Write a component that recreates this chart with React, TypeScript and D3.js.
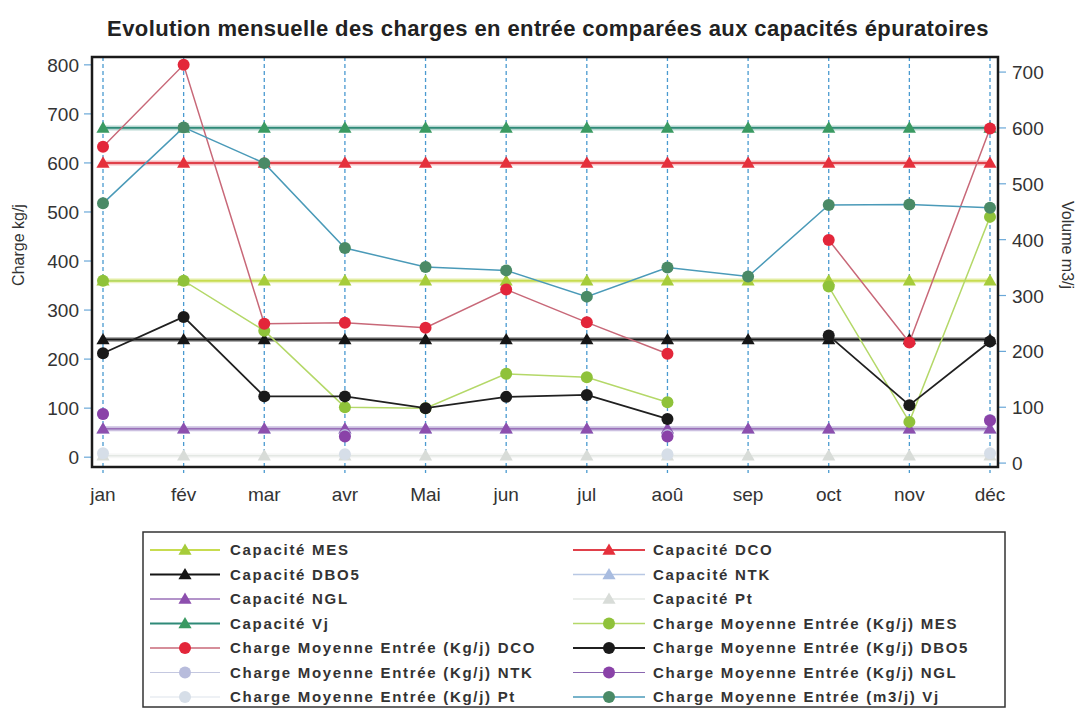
import React, { useEffect, useRef } from "react";
import * as d3 from "d3";

// months on the x axis
const months = ["jan", "fév", "mar", "avr", "Mai", "jun", "jul", "aoû", "sep", "oct", "nov", "déc"];
const leftTicks = [0, 100, 200, 300, 400, 500, 600, 700, 800];
const rightTicks = [0, 100, 200, 300, 400, 500, 600, 700];

// capacities (kg/j, Vj in m3/j)
const capMES = [360, 360, 360, 360, 360, 360, 360, 360, 360, 360, 360, 360];
const capDCO = [600, 600, 600, 600, 600, 600, 600, 600, 600, 600, 600, 600];
const capDBO5 = [240, 240, 240, 240, 240, 240, 240, 240, 240, 240, 240, 240];
const capNTK = [58, 58, 58, 58, 58, 58, 58, 58, 58, 58, 58, 58];
const capNGL = [58, 58, 58, 58, 58, 58, 58, 58, 58, 58, 58, 58];
const capPt = [3, 3, 3, 3, 3, 3, 3, 3, 3, 3, 3, 3];
const capVj = [600, 600, 600, 600, 600, 600, 600, 600, 600, 600, 600, 600];

// average incoming loads
const chMES = [360, 360, 258, 102, 100, 170, 163, 112, null, 348, 72, 490];
const chDCO = [633, 800, 272, 274, 264, 342, 275, 211, null, 443, 234, 670];
const chDBO5 = [212, 286, 124, 124, 100, 123, 127, 78, null, 248, 106, 236];
const chNTK = [88, null, null, 45, null, null, null, 45, null, null, null, 76];
const chNGL = [88, null, null, 42, null, null, null, 42, null, null, null, 75];
const chPt = [8, null, null, 6, null, null, null, 6, null, null, null, 8];
const chVj = [465, 601, 537, 385, 351, 345, 298, 350, 334, 462, 463, 457];

type Serie = {
  label: string;
  values: (number | null)[];
  axis: "L" | "R";
  shape: "tri" | "dot";
  line: string;
  marker: string;
  width: number;
};

const series: Serie[] = [
  { label: "Capacité MES", values: capMES, axis: "L", shape: "tri", line: "#c8dc50", marker: "#a6cc3a", width: 2 },
  { label: "Capacité DCO", values: capDCO, axis: "L", shape: "tri", line: "#e0404a", marker: "#e5303c", width: 2 },
  { label: "Capacité DBO5", values: capDBO5, axis: "L", shape: "tri", line: "#151515", marker: "#151515", width: 2 },
  { label: "Capacité NTK", values: capNTK, axis: "L", shape: "tri", line: "#b8c8e4", marker: "#a8bce0", width: 1.5 },
  { label: "Capacité NGL", values: capNGL, axis: "L", shape: "tri", line: "#9a70b8", marker: "#8d4fae", width: 1.5 },
  { label: "Capacité Pt", values: capPt, axis: "L", shape: "tri", line: "#e4e8e4", marker: "#d8dcd8", width: 1.5 },
  { label: "Capacité Vj", values: capVj, axis: "R", shape: "tri", line: "#2f8a78", marker: "#3a9a62", width: 1.8 },
  { label: "Charge Moyenne Entrée (Kg/j) MES", values: chMES, axis: "L", shape: "dot", line: "#b4d868", marker: "#8fc23a", width: 1.5 },
  { label: "Charge Moyenne Entrée (Kg/j) DCO", values: chDCO, axis: "L", shape: "dot", line: "#c86878", marker: "#e3263a", width: 1.5 },
  { label: "Charge Moyenne Entrée (Kg/j) DBO5", values: chDBO5, axis: "L", shape: "dot", line: "#202020", marker: "#1a1a1a", width: 1.8 },
  { label: "Charge Moyenne Entrée (Kg/j) NTK", values: chNTK, axis: "L", shape: "dot", line: "#c4c8e0", marker: "#b8bcdc", width: 1.2 },
  { label: "Charge Moyenne Entrée (Kg/j) NGL", values: chNGL, axis: "L", shape: "dot", line: "#8a66b0", marker: "#8a42a8", width: 1.2 },
  { label: "Charge Moyenne Entrée (Kg/j) Pt", values: chPt, axis: "L", shape: "dot", line: "#dde4ec", marker: "#d6dee8", width: 1.2 },
  { label: "Charge Moyenne Entrée (m3/j) Vj", values: chVj, axis: "R", shape: "dot", line: "#4a9ab8", marker: "#4a8a66", width: 1.5 },
];

// legend order: two columns as in the original
const legendLeft = ["Capacité MES", "Capacité DBO5", "Capacité NGL", "Capacité Vj",
  "Charge Moyenne Entrée (Kg/j) DCO", "Charge Moyenne Entrée (Kg/j) NTK", "Charge Moyenne Entrée (Kg/j) Pt"];
const legendRight = ["Capacité DCO", "Capacité NTK", "Capacité Pt", "Charge Moyenne Entrée (Kg/j) MES",
  "Charge Moyenne Entrée (Kg/j) DBO5", "Charge Moyenne Entrée (Kg/j) NGL", "Charge Moyenne Entrée (m3/j) Vj"];

const W = 1083, H = 711;
const plot = { left: 92, right: 998, top: 57, bottom: 467 };

const drawMarker = (g: any, s: Serie, x: number, y: number) => {
  if (s.shape === "tri") {
    g.append("path")
      .attr("d", d3.symbol(d3.symbolTriangle, 75)())
      .attr("transform", `translate(${x},${y + 1})`)
      .attr("fill", s.marker);
  } else {
    g.append("circle").attr("cx", x).attr("cy", y).attr("r", 6).attr("fill", s.marker);
  }
};

const drawChart = (container: SVGSVGElement | null) => {
  if (!container) return;
  const svg = d3.select(container);
  svg.selectAll("*").remove();

  const font = "'Liberation Sans', Arial, sans-serif";
  const x = d3.scalePoint<string>().domain(months).range([103, 990]);
  const yL = d3.scaleLinear().domain([-20, 816]).range([plot.bottom, plot.top]);
  const yR = d3.scaleLinear().domain([-7, 727]).range([plot.bottom, plot.top]);

  svg.append("rect").attr("width", W).attr("height", H).attr("fill", "#fff");

  // title
  svg.append("text")
    .attr("x", 548).attr("y", 36)
    .attr("text-anchor", "middle")
    .attr("font-family", font).attr("font-weight", "bold").attr("font-size", 22)
    .attr("letter-spacing", 0.4)
    .attr("fill", "#222")
    .text("Evolution mensuelle des charges en entrée comparées aux capacités épuratoires");

  // vertical dashed grid
  svg.append("g").selectAll("line").data(months).join("line")
    .attr("x1", d => x(d)!).attr("x2", d => x(d)!)
    .attr("y1", plot.top).attr("y2", plot.bottom + 6)
    .attr("stroke", "#4a9ad0").attr("stroke-width", 1.3).attr("stroke-dasharray", "4,3");

  // left axis
  const gl = svg.append("g");
  gl.selectAll("line").data(leftTicks).join("line")
    .attr("x1", plot.left - 8).attr("x2", plot.left)
    .attr("y1", d => yL(d)).attr("y2", d => yL(d))
    .attr("stroke", "#6aa8d8").attr("stroke-width", 1.2);
  gl.selectAll("text").data(leftTicks).join("text")
    .attr("x", 79).attr("y", d => yL(d) + 7)
    .attr("text-anchor", "end")
    .attr("font-family", font).attr("font-size", 19).attr("fill", "#333")
    .text(d => d);

  // right axis
  const gr = svg.append("g");
  gr.selectAll("line").data(rightTicks).join("line")
    .attr("x1", plot.right).attr("x2", plot.right + 8)
    .attr("y1", d => yR(d)).attr("y2", d => yR(d))
    .attr("stroke", "#6aa8d8").attr("stroke-width", 1.2);
  gr.selectAll("text").data(rightTicks).join("text")
    .attr("x", 1012).attr("y", d => yR(d) + 7)
    .attr("font-family", font).attr("font-size", 19).attr("fill", "#333")
    .text(d => d);

  // month labels
  svg.append("g").selectAll("text").data(months).join("text")
    .attr("x", d => x(d)!).attr("y", 501)
    .attr("text-anchor", "middle")
    .attr("font-family", font).attr("font-size", 19).attr("fill", "#333")
    .text(d => d);

  // axis titles
  svg.append("text")
    .attr("transform", "translate(24,245) rotate(-90)")
    .attr("text-anchor", "middle")
    .attr("font-family", font).attr("font-size", 16).attr("fill", "#333")
    .text("Charge kg/j");
  svg.append("text")
    .attr("transform", "translate(1062,245) rotate(90)")
    .attr("text-anchor", "middle")
    .attr("font-family", font).attr("font-size", 16).attr("fill", "#333")
    .text("Volume m3/j");

  // series
  const gs = svg.append("g");
  series.forEach(s => {
    const y = s.axis === "L" ? yL : yR;
    const pts = months.map((m, i) => ({ m, v: s.values[i] }));
    const line = d3.line<{ m: string; v: number | null }>()
      .defined(d => d.v != null)
      .x(d => x(d.m)!)
      .y(d => y(d.v as number));
    if (s.shape === "tri") {
      gs.append("path").attr("d", line(pts)).attr("fill", "none")
        .attr("stroke", s.line).attr("stroke-opacity", 0.35).attr("stroke-width", 5);
    }
    gs.append("path").attr("d", line(pts)).attr("fill", "none")
      .attr("stroke", s.line).attr("stroke-width", s.width);
    pts.forEach(p => {
      if (p.v != null) drawMarker(gs, s, x(p.m)!, y(p.v));
    });
  });

  // plot frame
  svg.append("rect")
    .attr("x", plot.left).attr("y", plot.top)
    .attr("width", plot.right - plot.left).attr("height", plot.bottom - plot.top)
    .attr("fill", "none").attr("stroke", "#1a1a1a").attr("stroke-width", 2.5);

  // legend
  const lg = svg.append("g");
  lg.append("rect")
    .attr("x", 143).attr("y", 532).attr("width", 862).attr("height", 175)
    .attr("fill", "#fff").attr("stroke", "#333").attr("stroke-width", 1.5);
  const cols = [
    { names: legendLeft, x0: 150, x1: 220, tx: 230 },
    { names: legendRight, x0: 573, x1: 645, tx: 653 },
  ];
  cols.forEach(c => {
    c.names.forEach((name, i) => {
      const s = series.find(d => d.label === name)!;
      const yy = 550 + i * 24.5;
      lg.append("line")
        .attr("x1", c.x0).attr("x2", c.x1).attr("y1", yy).attr("y2", yy)
        .attr("stroke", s.line).attr("stroke-width", s.width);
      drawMarker(lg, s, (c.x0 + c.x1) / 2, yy);
      lg.append("text")
        .attr("x", c.tx).attr("y", yy + 5)
        .attr("font-family", font).attr("font-weight", "bold").attr("font-size", 15)
        .attr("letter-spacing", 1.7).attr("fill", "#333")
        .text(name);
    });
  });
};

export default function App() {
  const ref = useRef<SVGSVGElement>(null);
  useEffect(() => {
    drawChart(ref.current);
  }, []);
  return (
    <svg ref={ref} width={W} height={H}
      style={{ position: "absolute", left: 0, top: 0, display: "block" }} />
  );
}
